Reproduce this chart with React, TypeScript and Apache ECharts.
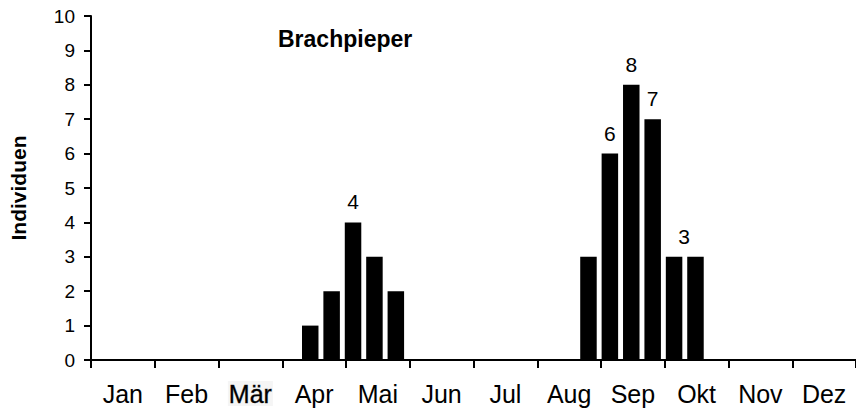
import React, { useEffect, useRef } from "react";
import * as echarts from "echarts";

const months = ["Jan", "Feb", "Mär", "Apr", "Mai", "Jun", "Jul", "Aug", "Sep", "Okt", "Nov", "Dez"];
// 36 decades (3 per month)
const decadeValues = [
  0, 0, 0, // Jan
  0, 0, 0, // Feb
  0, 0, 0, // Mär
  0, 1, 2, // Apr
  4, 3, 2, // Mai
  0, 0, 0, // Jun
  0, 0, 0, // Jul
  0, 0, 3, // Aug
  6, 8, 7, // Sep
  3, 3, 0, // Okt
  0, 0, 0, // Nov
  0, 0, 0, // Dez
];
const labeledDecades = [12, 24, 25, 26, 27];
const labelShift: Record<number, number> = { 27: 10 };
const yTicks = [0, 1, 2, 3, 4, 5, 6, 7, 8, 9, 10];
const title = "Brachpieper";
const yName = "Individuen";

const FONT = "Arial, 'Liberation Sans', Helvetica, sans-serif";

export default function App() {
  const ref = useRef<HTMLDivElement>(null);
  useEffect(() => {
    document.body.style.margin = "0";
    if (!ref.current) return;
    const chart = echarts.init(ref.current, null, { renderer: "svg" });
    const decadeCats = decadeValues.map((_, i) => String(i));
    const yMin = yTicks[0];
    const yMax = yTicks[yTicks.length - 1];
    chart.setOption({
      animation: false,
      backgroundColor: "#fff",
      textStyle: { fontFamily: FONT, color: "#000" },
      title: {
        text: title,
        left: 278,
        top: 27,
        padding: 0,
        textStyle: { fontFamily: FONT, fontSize: 23, fontWeight: "bold", color: "#000" },
      },
      grid: [
        { left: 82, right: 0, top: 16, bottom: 54, containLabel: false },
        { left: 85.5, right: -3.5, top: 16, bottom: 54, containLabel: false },
      ],
      xAxis: [
        {
          type: "category",
          gridIndex: 0,
          data: months,
          boundaryGap: true,
          axisLine: { show: true, lineStyle: { color: "#000", width: 2 } },
          axisTick: { show: true, length: 8, interval: 0, lineStyle: { color: "#000", width: 2 } },
          axisLabel: {
            interval: 0,
            hideOverlap: false,
            fontFamily: FONT,
            fontSize: 25,
            color: "#000",
            margin: 21,
            formatter: (v: string) => (v === "Mär" ? `{m|${v}}` : v),
            rich: {
              m: {
                fontFamily: FONT,
                fontSize: 25,
                color: "#000",
                textBorderColor: "#333",
                textBorderWidth: 0.4,
                backgroundColor: "#f5f5f5",
                padding: [0, 1, 0, 1],
              },
            },
          },
          splitLine: { show: false },
        },
        {
          type: "category",
          gridIndex: 1,
          data: decadeCats,
          boundaryGap: true,
          show: false,
        },
      ],
      yAxis: [
        {
          type: "value",
          gridIndex: 0,
          min: yMin,
          max: yMax,
          interval: 1,
          name: yName,
          nameLocation: "middle",
          nameGap: 62,
          nameTextStyle: { fontFamily: FONT, fontSize: 21, fontWeight: "bold", color: "#000" },
          axisLine: { show: true, lineStyle: { color: "#000", width: 2 } },
          axisTick: { show: true, length: 7, lineStyle: { color: "#000", width: 2 } },
          axisLabel: { fontFamily: FONT, fontSize: 19, color: "#000", margin: 16 },
          splitLine: { show: false },
        },
        {
          type: "value",
          gridIndex: 1,
          min: yMin,
          max: yMax,
          interval: 1,
          show: false,
          splitLine: { show: false },
        },
      ],
      series: [
        {
          type: "bar",
          xAxisIndex: 1,
          yAxisIndex: 1,
          barWidth: 16.5,
          itemStyle: { color: "#000" },
          data: decadeValues.map((v, i) =>
            labeledDecades.includes(i)
              ? {
                  value: v,
                  label: {
                    show: true,
                    position: "top",
                    distance: 10,
                    offset: [labelShift[i] || 0, 0],
                    fontFamily: FONT,
                    fontSize: 21,
                    color: "#000",
                  },
                }
              : v
          ),
        },
      ],
    });
    return () => chart.dispose();
  }, []);
  return <div ref={ref} style={{ width: 856, height: 414 }} />;
}
